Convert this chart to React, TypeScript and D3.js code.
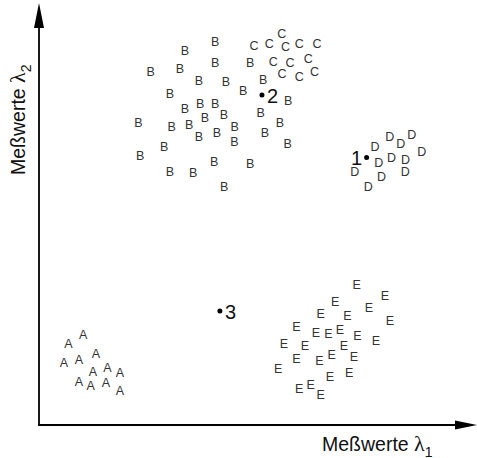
import React from "react";
import * as d3 from "d3";

// Measurements (λ1, λ2) of the five classes, in axis units (0–100)
const classA: [number, number][] = [
  [10.1, 21.3], [6.7, 19.2], [5.7, 14.8], [9.1, 15.4], [13.0, 16.8], [12.3, 12.6],
  [15.6, 13.6], [18.5, 12.3], [9.1, 10.3], [11.8, 9.3], [15.3, 10.0], [18.5, 8.1],
];
const classB: [number, number][] = [
  [33.3, 88.7], [40.2, 90.7], [40.2, 85.9], [25.5, 83.6], [32.2, 84.4], [48.2, 85.7],
  [36.5, 81.6], [42.7, 81.2], [51.2, 81.8], [46.6, 79.2], [29.9, 78.4], [56.9, 76.8],
  [33.3, 75.0], [36.8, 76.1], [40.2, 76.1], [42.2, 73.5], [37.9, 72.7], [50.6, 74.0],
  [22.7, 71.5], [30.3, 70.7], [34.3, 71.1], [44.7, 70.5], [55.0, 71.5], [36.5, 68.2],
  [40.6, 69.1], [51.6, 69.1], [28.6, 65.9], [44.6, 67.0], [56.8, 66.6], [23.1, 63.7],
  [40.0, 62.3], [48.2, 61.8], [29.9, 60.0], [35.2, 59.6], [42.3, 56.5],
];
const classC: [number, number][] = [
  [55.4, 92.7], [49.1, 89.9], [52.6, 90.3], [56.3, 89.5], [59.4, 90.3], [63.5, 90.3],
  [53.5, 86.1], [57.3, 85.7], [61.5, 86.7], [55.5, 83.2], [59.4, 82.5], [62.9, 83.6],
];
const classD: [number, number][] = [
  [76.7, 65.8], [80.1, 68.3], [85.1, 68.7], [82.6, 66.6], [87.4, 64.8], [77.6, 62.2],
  [80.5, 63.2], [83.7, 62.8], [72.1, 60.0], [78.2, 58.7], [75.2, 56.5], [83.6, 59.9],
];
const classE: [number, number][] = [
  [72.5, 33.2], [79.0, 30.6], [67.6, 29.2], [75.3, 27.7], [64.3, 26.2], [70.4, 25.8],
  [80.1, 24.7], [58.8, 23.3], [63.2, 21.9], [66.1, 21.5], [68.7, 22.5], [72.7, 21.2],
  [76.9, 20.0], [55.9, 19.2], [60.7, 18.7], [69.6, 18.7], [66.8, 16.6], [71.9, 16.0],
  [58.8, 15.6], [64.0, 15.2], [54.6, 13.3], [70.8, 12.3], [66.4, 11.3], [62.0, 9.5],
  [59.4, 8.5], [64.3, 7.1],
];

const classLabels = ["A", "B", "C", "D", "E"];
const classPoints = [classA, classB, classC, classD, classE];

// Unknown samples to classify: label, λ1, λ2, label side
const samples: { label: string; x: number; y: number; side: number }[] = [
  { label: "1", x: 74.8, y: 63.4, side: -1 },
  { label: "2", x: 50.9, y: 78.2, side: 1 },
  { label: "3", x: 41.3, y: 27.0, side: 1 },
];

const axisTitle = "Meßwerte ";
const lambda = "λ";

const W = 477;
const H = 458;
const FONT = "'Liberation Sans', Arial, Helvetica, sans-serif";

export default function App() {
  const x = d3.scaleLinear().domain([0, 100]).range([39, 477]);
  const y = d3.scaleLinear().domain([0, 100]).range([425, 3]);

  const x0 = x(0);
  const y0 = y(0);
  const xTip = x(100);
  const yTip = y(100);

  return (
    <svg
      width={W}
      height={H}
      style={{ position: "absolute", left: 0, top: 0, background: "#fff" }}
      fontFamily={FONT}
    >
      {/* axes with arrowheads */}
      <line x1={x0} y1={y0} x2={x0} y2={yTip + 24} stroke="#000" strokeWidth={1.8} />
      <polygon points={`${x0},${yTip} ${x0 - 5},${yTip + 25} ${x0 + 5},${yTip + 25}`} fill="#000" />
      <line x1={x0 - 1} y1={y0} x2={xTip - 21} y2={y0} stroke="#000" strokeWidth={1.8} />
      <polygon points={`${xTip},${y0} ${xTip - 22},${y0 - 4.5} ${xTip - 22},${y0 + 4.5}`} fill="#000" />

      {/* axis titles */}
      <text x={322} y={451} fontSize={19.5} fill="#111">
        {axisTitle}
        <tspan fontFamily="'Liberation Serif', serif" fontSize={22}>{lambda}</tspan>
        <tspan fontSize={14} dy={5.5}>1</tspan>
      </text>
      <text transform="translate(25,175) rotate(-90)" fontSize={19.5} fill="#111">
        {axisTitle}
        <tspan fontFamily="'Liberation Serif', serif" fontSize={22}>{lambda}</tspan>
        <tspan fontSize={14} dy={5.5}>2</tspan>
      </text>

      {/* class members drawn as their letters */}
      {classPoints.map((pts, ci) =>
        pts.map(([vx, vy], i) => (
          <text
            key={`${ci}-${i}`}
            x={x(vx)}
            y={y(vy)}
            textAnchor="middle"
            dominantBaseline="central"
            fontSize={12.5}
            fill="#333"
          >
            {classLabels[ci]}
          </text>
        ))
      )}

      {/* unknown samples */}
      {samples.map((s) => (
        <g key={s.label}>
          <circle cx={x(s.x)} cy={y(s.y)} r={2.5} fill="#000" />
          <text
            x={x(s.x) + (s.side > 0 ? 5 : -15.5)}
            y={y(s.y) + 1}
            dominantBaseline="central"
            fontSize={20}
            fill="#111"
          >
            {s.label}
          </text>
        </g>
      ))}
    </svg>
  );
}
